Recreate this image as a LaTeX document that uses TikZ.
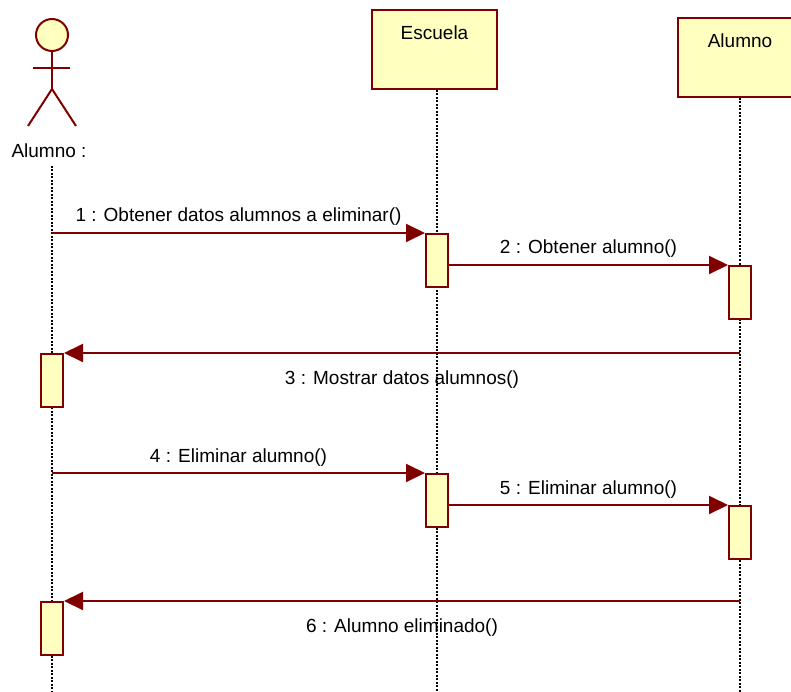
\documentclass[tikz,border=0pt]{standalone}
\usepackage{fontspec}
\setmainfont{Liberation Sans}
\usetikzlibrary{arrows.meta,positioning}
\definecolor{umlline}{RGB}{128,0,0}
\definecolor{umlfill}{RGB}{255,255,192}

\begin{document}
\begin{tikzpicture} [x=1pt,y=-1pt,line width=2pt,
    every node/.style={font=\fontsize{19}{22}\selectfont},
    object/.style={draw=umlline,fill=umlfill,anchor=north,minimum width=125pt,
      text height=14pt,text depth=33pt,inner ysep=16pt},
    act/.style={draw=umlline,fill=umlfill,anchor=north,minimum width=22pt,
      minimum height=53pt,inner sep=0pt},
    lifeline/.style={draw=black,line width=1.6pt,dash pattern=on 2pt off 1.5pt},
    msg/.style={draw=umlline,-{Triangle[length=19pt,width=18pt]}},
    up/.style={midway,anchor=base,yshift=11pt},
    down/.style={midway,anchor=base,yshift=-31pt}]
  \useasboundingbox (0,0) rectangle (791,692);

  % actor
  \node[draw=umlline,fill=umlfill,circle,minimum size=32pt,inner sep=0pt] (head) at (52,35) {};
  \draw[umlline] (head.south) -- (52,89) coordinate (hip);
  \draw[umlline] (33,68) -- (70,68);
  \draw[umlline] (hip) -- (28,126);
  \draw[umlline] (hip) -- (76,126);
  \node[anchor=base] (student) at (49,158) {Alumno :};

  % objects
  \node[object] (school) at (434.5,9) {Escuela};
  \node[object] (pupil) at (740,17) {Alumno};

  % lifelines
  \coordinate (endS) at (52,692);
  \coordinate (endE) at (437,692);
  \coordinate (endA) at (740,692);
  \draw[lifeline] (head |- student.south) ++(0,3) -- (endS);
  \draw[lifeline] (endE |- school.south) -- (endE);
  \draw[lifeline] (pupil.south) -- (endA);

  % activations
  \node[act] (a1) at (437,233) {};
  \node[act] (a2) at (740,265) {};
  \node[act] (a3) at (52,353) {};
  \node[act] (a4) at (437,473) {};
  \node[act] (a5) at (740,505) {};
  \node[act] (a6) at (52,601) {};

  % messages
  \path
    (head |- a1.north) edge[msg] node[up] {1 : Obtener datos alumnos a eliminar()} (a1.north west)
    (a1.east |- a2.north) edge[msg] node[up] {2 : Obtener alumno()} (a2.north west)
    (pupil |- a3.north) edge[msg] node[down] {3 : Mostrar datos alumnos()} (a3.north east)
    (head |- a4.north) edge[msg] node[up] {4 : Eliminar alumno()} (a4.north west)
    (a4.east |- a5.north) edge[msg] node[up] {5 : Eliminar alumno()} (a5.north west)
    (pupil |- a6.north) edge[msg] node[down] {6 : Alumno eliminado()} (a6.north east);
\end{tikzpicture}
\end{document}
